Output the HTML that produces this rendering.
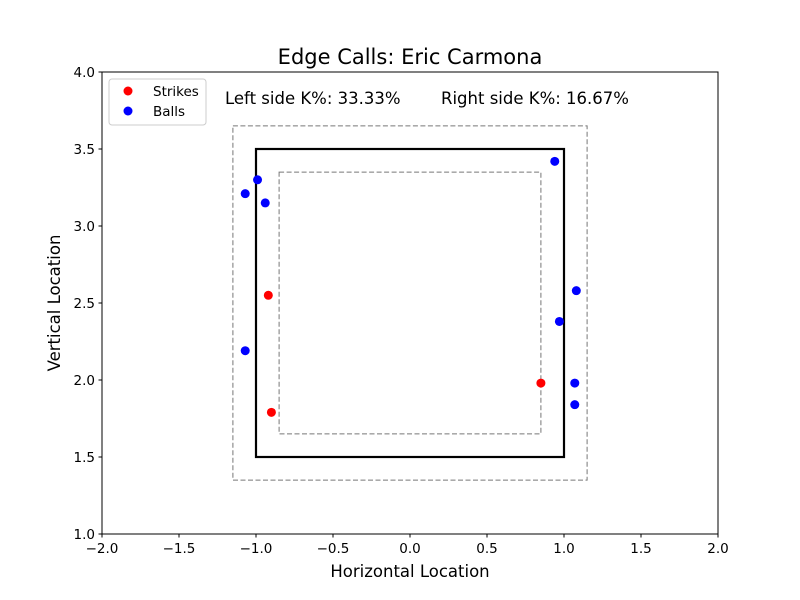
<!DOCTYPE html>
<html><head><meta charset="utf-8"><style>body{margin:0;background:#fff}svg{display:block;font-family:"DejaVu Sans","Liberation Sans",sans-serif}</style></head>
<body>
<svg id="chart" width="800" height="600" xmlns="http://www.w3.org/2000/svg">
<rect width="800" height="600" fill="#fff"/>
<text x="410" y="64" font-size="21" text-anchor="middle">Edge Calls: Eric Carmona</text>
<g id="zones"></g>
<g id="pts"></g>
<rect x="102" y="72" width="616" height="462" fill="none" stroke="#000" stroke-width="1"/>
<g id="ticks" font-size="13.5"></g>
<text x="410" y="577" font-size="16.5" text-anchor="middle">Horizontal Location</text>
<text transform="translate(60,303) rotate(-90)" font-size="16.5" text-anchor="middle">Vertical Location</text>
<text x="225" y="104" font-size="16.5">Left side K%: 33.33%</text>
<text x="441" y="104" font-size="16.5">Right side K%: 16.67%</text>
<g>
<rect x="109" y="79" width="97" height="46" rx="3" fill="#fff" stroke="#ccc"/>
<circle cx="128" cy="91" r="4.5" fill="red"/><text x="153" y="96" font-size="13.5">Strikes</text>
<circle cx="128" cy="111" r="4.5" fill="blue"/><text x="153" y="116" font-size="13.5">Balls</text>
</g>
</svg>
<script>
const strikeX=[-0.92,-0.90,0.85];
const strikeY=[2.55,1.79,1.98];
const ballX=[0.94,-1.07,-0.99,-0.94,-1.07,1.08,0.97,1.07,1.07];
const ballY=[3.42,3.21,3.30,3.15,2.19,2.58,2.38,1.98,1.84];
const xTicks=[-2,-1.5,-1,-0.5,0,0.5,1,1.5,2];
const yTicks=[1,1.5,2,2.5,3,3.5,4];
const NS="http://www.w3.org/2000/svg";
const sx=v=>410+v*154, sy=v=>534-(v-1)*154;
function mk(tag,attrs,parent){const e=document.createElementNS(NS,tag);for(const k in attrs)e.setAttribute(k,attrs[k]);parent.appendChild(e);return e;}
const zones=document.getElementById('zones');
function box(x0,x1,y0,y1,dash,w,c,name){const r=mk('rect',{x:sx(x0),y:sy(y1),width:sx(x1)-sx(x0),height:sy(y0)-sy(y1),fill:'none',stroke:c,'stroke-width':w},zones);if(dash)r.setAttribute('stroke-dasharray',dash);

}
box(-1.15,1.15,1.35,3.65,'5,2.5',1,'#777','outer-edge-zone');
box(-0.85,0.85,1.65,3.35,'5,2.5',1,'#777','inner-edge-zone');
box(-1,1,1.5,3.5,null,2.2,'#000','strike-zone');
const pts=document.getElementById('pts');
ballX.forEach((v,i)=>{const c=mk('circle',{cx:sx(v),cy:sy(ballY[i]),r:4.5,fill:'blue'},pts);

});
strikeX.forEach((v,i)=>{const c=mk('circle',{cx:sx(v),cy:sy(strikeY[i]),r:4.5,fill:'red'},pts);

});
const tk=document.getElementById('ticks');
xTicks.forEach(v=>{mk('line',{x1:sx(v),x2:sx(v),y1:534,y2:537.5,stroke:'#000'},tk);const t=mk('text',{x:sx(v),y:553,'text-anchor':'middle'},tk);t.textContent=(v<0?'−':'')+Math.abs(v).toFixed(1);

});
yTicks.forEach(v=>{mk('line',{x1:98.5,x2:102,y1:sy(v),y2:sy(v),stroke:'#000'},tk);const t=mk('text',{x:95,y:sy(v)+5,'text-anchor':'end'},tk);t.textContent=v.toFixed(1);

});
</script>
</body></html>
